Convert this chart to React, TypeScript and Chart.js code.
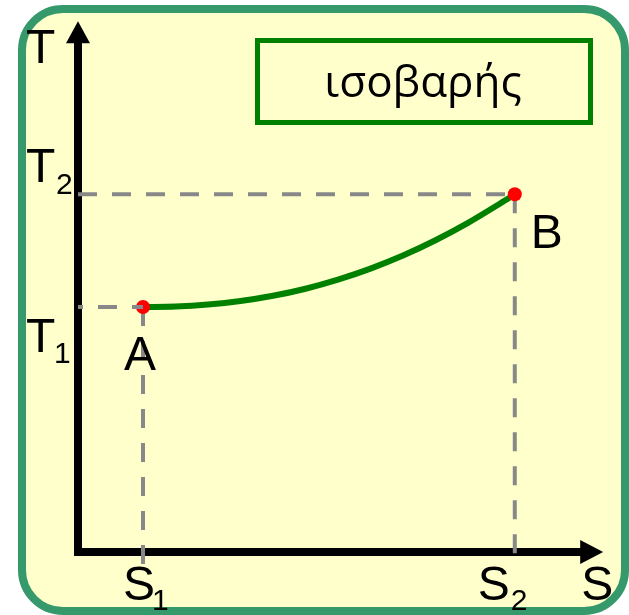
import React, { useEffect, useRef } from "react";
import { Chart, registerables } from "chart.js";

Chart.register(...registerables);

// ---- data (entropy S, temperature T) ----
const S_CURVE = [1, 1.5, 2, 2.5, 3, 3.5, 4, 4.5, 5, 5.5, 6, 6.5, 6.72];
const T_CURVE = [300, 300.6, 303, 307.3, 313.7, 322.4, 333.5, 347, 363, 381.7, 403, 427, 438];
const S_POINTS = [1, 6.72];
const T_POINTS = [300, 438];
const POINT_LABELS = ["A", "B"];
const S_TICKS = ["1", "2"]; // subscripts of S ticks
const T_TICKS = ["1", "2"]; // subscripts of T ticks
const GUIDE_BOTTOM = -15;
const TITLE = "ισοβαρής";
const AXIS_X_TITLE = "S";
const AXIS_Y_TITLE = "T";

const X_MIN = -1.2;
const X_MAX = 8.477;
const Y_MIN = -77.1;
const Y_MAX = 675.9;
const S_ARROW = 8.08;
const T_ARROW = 650;

const LETTER_FONT = '"Liberation Sans", Arial, sans-serif';

const decorPlugin = {
  id: "decor",
  beforeDraw(chart: any) {
    const ctx = chart.ctx;
    ctx.save();
    // frame
    ctx.beginPath();
    ctx.roundRect(22, 9, 603, 602, 41);
    ctx.fillStyle = "#ffffcc";
    ctx.fill();
    ctx.lineWidth = 8;
    ctx.strokeStyle = "#36996b";
    ctx.stroke();
    // title box
    ctx.lineWidth = 5;
    ctx.strokeStyle = "#008000";
    ctx.strokeRect(257.5, 40.5, 333, 82);
    ctx.fillStyle = "#000";
    ctx.font = '44px "Open Sans", sans-serif';
    ctx.textAlign = "center";
    ctx.textBaseline = "alphabetic";
    ctx.fillText(TITLE, 423, 97);
    ctx.restore();
  },
  beforeDatasetsDraw(chart: any) {
    const ctx = chart.ctx;
    const xs = chart.scales.x;
    const ys = chart.scales.y;
    const ox = xs.getPixelForValue(0);
    const oy = ys.getPixelForValue(0);
    const tipY = ys.getPixelForValue(T_ARROW);
    const tipX = xs.getPixelForValue(S_ARROW);
    ctx.save();
    ctx.strokeStyle = "#000";
    ctx.fillStyle = "#000";
    ctx.lineWidth = 8;
    ctx.lineCap = "butt";
    ctx.beginPath();
    ctx.moveTo(ox, oy + 4);
    ctx.lineTo(ox, tipY + 20);
    ctx.stroke();
    ctx.beginPath();
    ctx.moveTo(ox - 4, oy);
    ctx.lineTo(tipX - 21, oy);
    ctx.stroke();
    // arrowheads
    ctx.beginPath();
    ctx.moveTo(ox, tipY);
    ctx.lineTo(ox - 12, tipY + 22);
    ctx.lineTo(ox + 12, tipY + 22);
    ctx.closePath();
    ctx.fill();
    ctx.beginPath();
    ctx.moveTo(tipX, oy);
    ctx.lineTo(tipX - 23, oy - 12);
    ctx.lineTo(tipX - 23, oy + 12);
    ctx.closePath();
    ctx.fill();
    ctx.restore();
  },
  afterDraw(chart: any) {
    const ctx = chart.ctx;
    const xs = chart.scales.x;
    const ys = chart.scales.y;
    ctx.save();
    ctx.fillStyle = "#000";
    ctx.textAlign = "left";
    ctx.textBaseline = "alphabetic";
    const big = "48px " + LETTER_FONT;
    const small = "30px " + LETTER_FONT;
    const ox = xs.getPixelForValue(0);
    const oy = ys.getPixelForValue(0);
    // axis titles
    ctx.font = big;
    ctx.fillText(AXIS_Y_TITLE, ox - 52, ys.getPixelForValue(T_ARROW) + 42);
    ctx.fillText(AXIS_X_TITLE, xs.getPixelForValue(S_ARROW) - 22, oy + 48);
    // T ticks
    const tA = ys.getPixelForValue(T_POINTS[0]);
    const tB = ys.getPixelForValue(T_POINTS[1]);
    ctx.font = big;
    ctx.fillText("T", ox - 52, tB - 12);
    ctx.fillText("T", ox - 52, tA + 45);
    ctx.font = small;
    ctx.fillText(T_TICKS[1], ox - 22, tB);
    ctx.fillText(T_TICKS[0], ox - 24, tA + 56);
    // S ticks
    const sA = xs.getPixelForValue(S_POINTS[0]);
    const sB = xs.getPixelForValue(S_POINTS[1]);
    ctx.font = big;
    ctx.fillText("S", sA - 20, oy + 48);
    ctx.fillText("S", sB - 37, oy + 48);
    ctx.font = small;
    ctx.fillText(S_TICKS[0], sA + 9, oy + 58);
    ctx.fillText(S_TICKS[1], sB - 4, oy + 58);
    // point labels
    ctx.font = big;
    ctx.fillText(POINT_LABELS[0], sA - 19, tA + 63);
    ctx.fillText(POINT_LABELS[1], sB + 16, tB + 54);
    ctx.restore();
  },
};

export default function App() {
  const ref = useRef<HTMLCanvasElement | null>(null);
  useEffect(() => {
    if (!ref.current) return;
    const guide = {
      borderColor: "#888888",
      borderWidth: 4,
      borderDash: [19, 15],
      pointRadius: 0,
      showLine: true,
      fill: false,
    };
    const chart = new Chart(ref.current, {
      type: "scatter",
      data: {
        datasets: [
          {
            ...guide,
            order: 0,
            data: [
              { x: 0, y: T_POINTS[1] },
              { x: S_POINTS[1], y: T_POINTS[1] },
            ],
          },
          {
            ...guide,
            order: 0,
            borderDashOffset: 14,
            data: [
              { x: 0, y: T_POINTS[0] },
              { x: S_POINTS[0], y: T_POINTS[0] },
            ],
          },
          {
            order: 1,
            data: S_POINTS.map((s, i) => ({ x: s, y: T_POINTS[i] })),
            pointRadius: 7,
            pointBackgroundColor: "#ff0000",
            pointBorderWidth: 0,
            showLine: false,
          },
          {
            order: 2,
            data: S_CURVE.map((s, i) => ({ x: s, y: T_CURVE[i] })),
            showLine: true,
            borderColor: "#008000",
            borderWidth: 6,
            pointRadius: 0,
            cubicInterpolationMode: "monotone",
            fill: false,
          },
          {
            ...guide,
            order: 3,
            data: [
              { x: S_POINTS[0], y: T_POINTS[0] },
              { x: S_POINTS[0], y: GUIDE_BOTTOM },
            ],
          },
          {
            ...guide,
            order: 3,
            data: [
              { x: S_POINTS[1], y: T_POINTS[1] },
              { x: S_POINTS[1], y: GUIDE_BOTTOM },
            ],
          },
        ],
      } as any,
      options: {
        responsive: false,
        maintainAspectRatio: false,
        animation: false,
        layout: { padding: 0, autoPadding: false },
        plugins: {
          legend: { display: false },
          tooltip: { enabled: false },
          title: { display: false },
        },
        scales: {
          x: { type: "linear", display: false, min: X_MIN, max: X_MAX },
          y: { type: "linear", display: false, min: Y_MIN, max: Y_MAX },
        },
      } as any,
      plugins: [decorPlugin],
    });
    return () => chart.destroy();
  }, []);
  return (
    <div style={{ position: "absolute", left: 0, top: 0, width: 629, height: 615 }}>
      <canvas ref={ref} width={629} height={615} style={{ display: "block" }} />
    </div>
  );
}
